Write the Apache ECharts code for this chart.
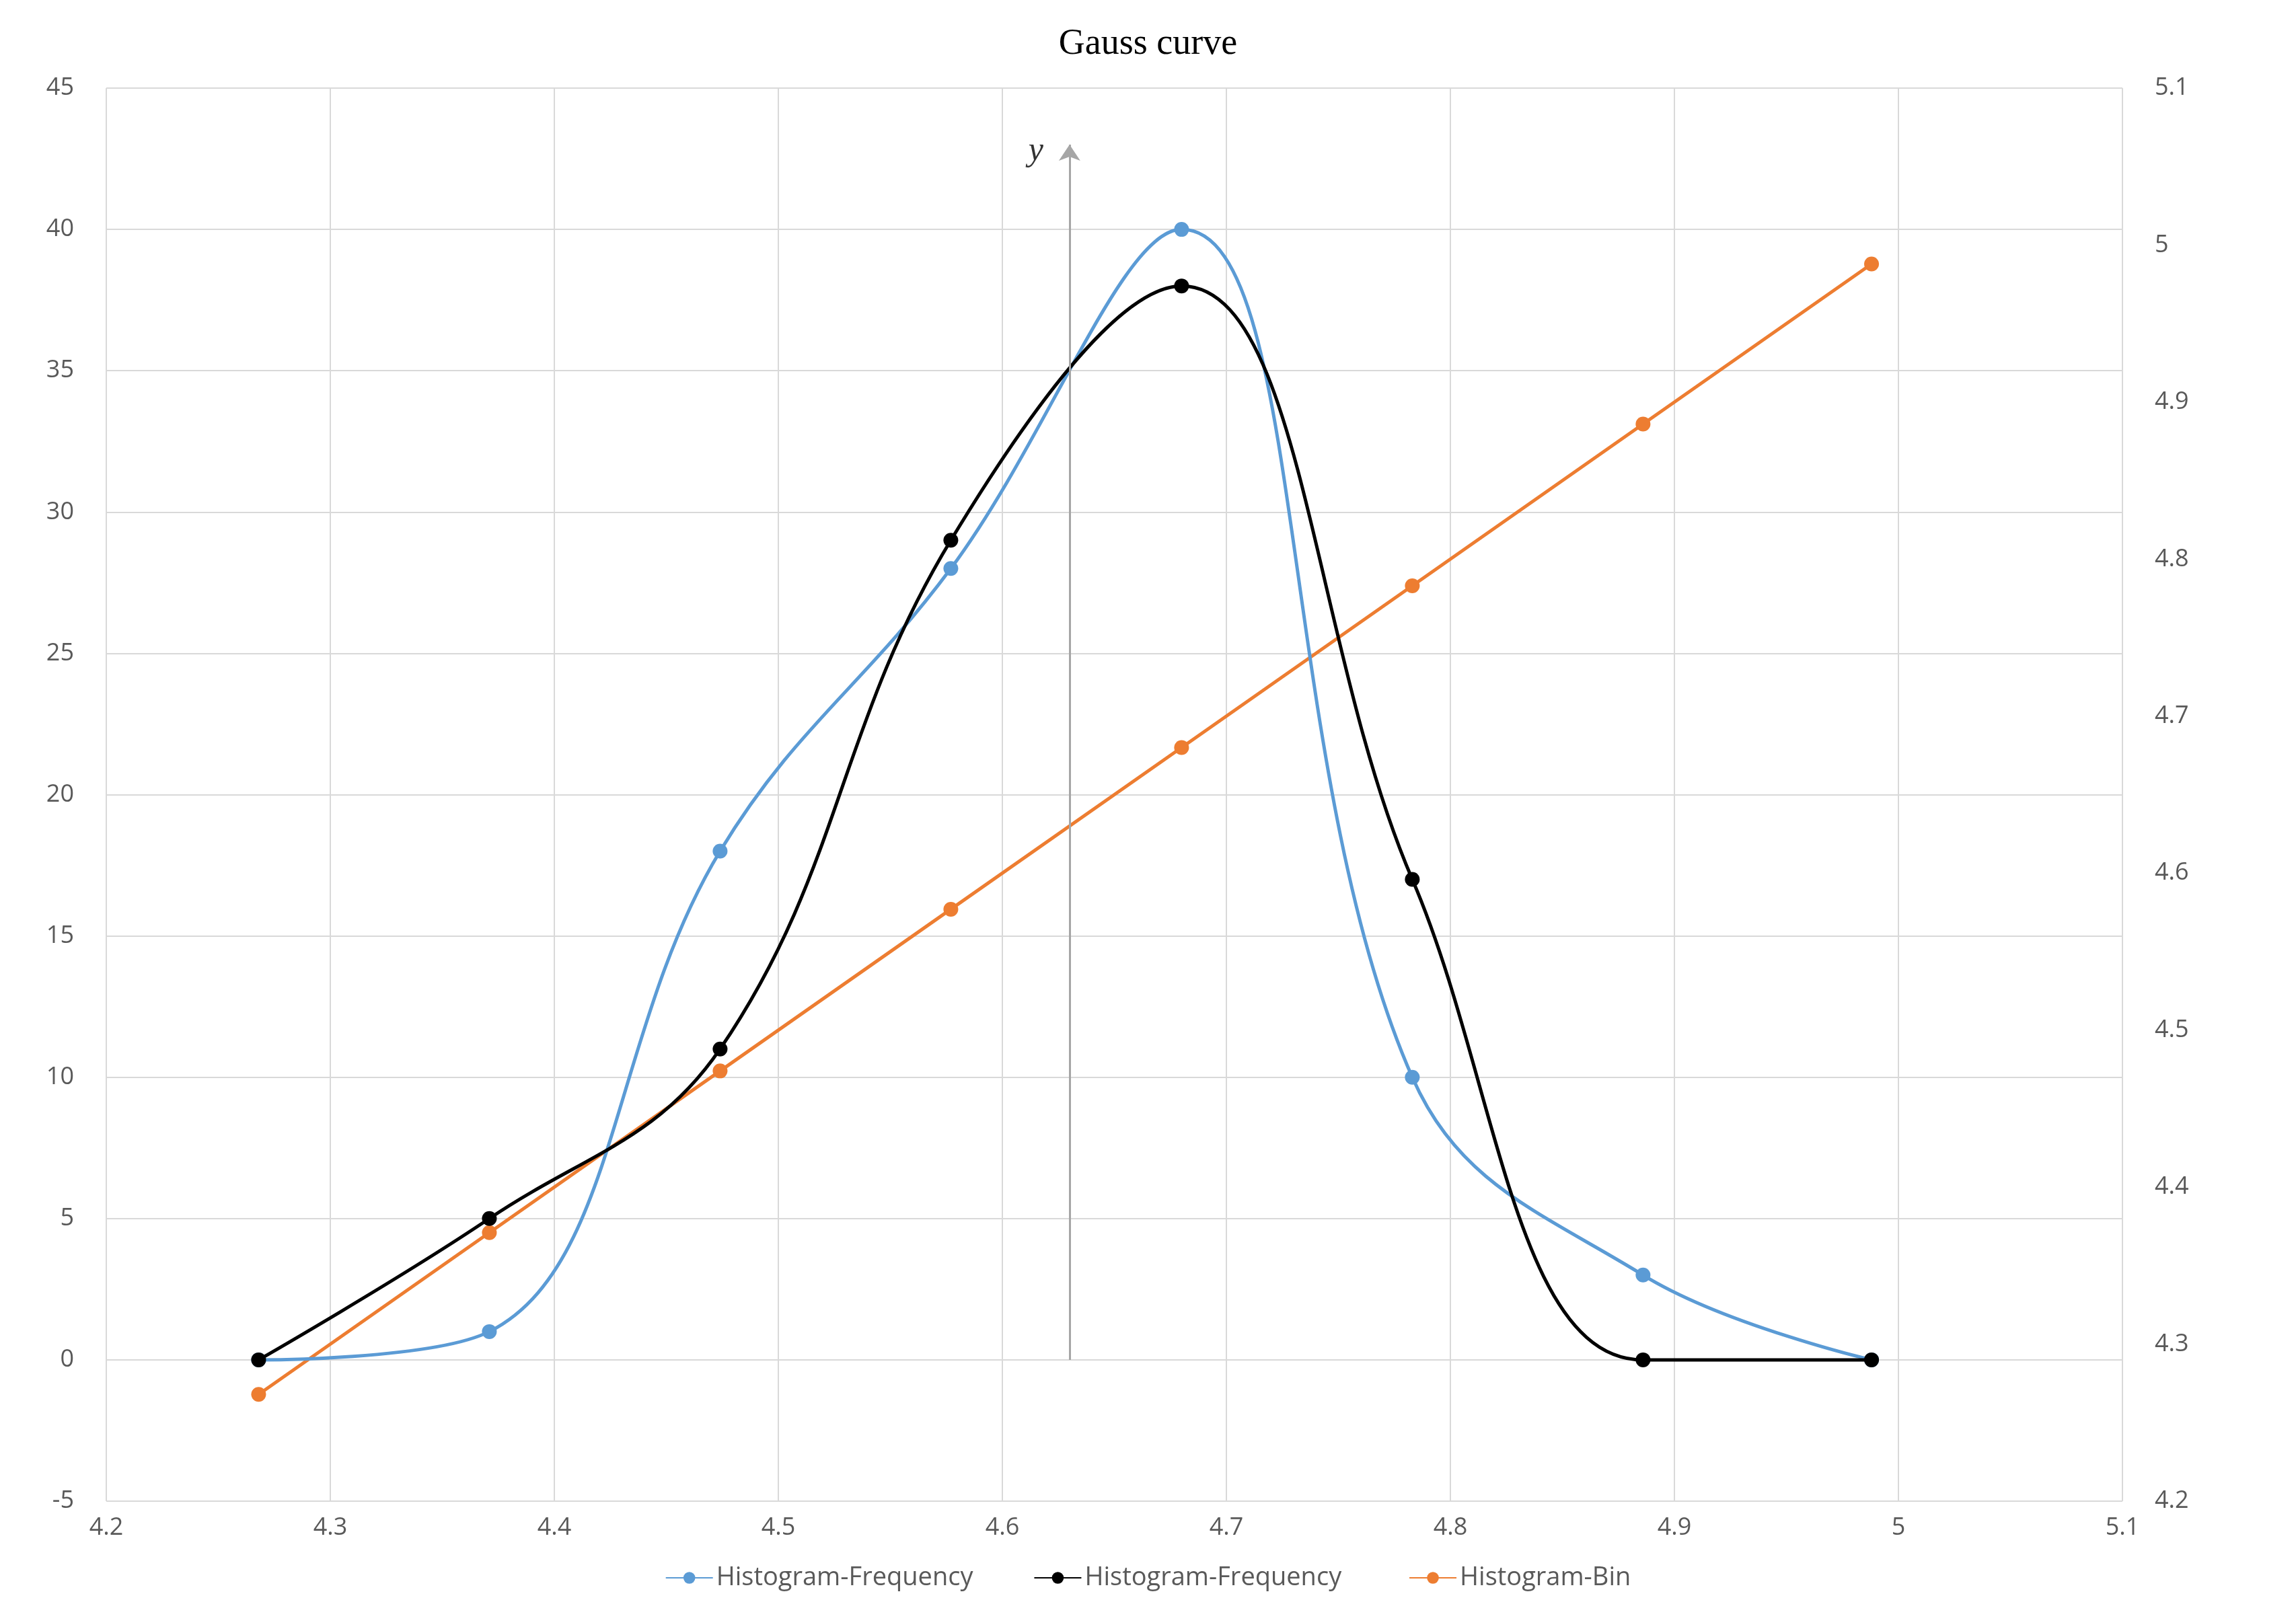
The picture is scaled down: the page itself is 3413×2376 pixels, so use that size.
<!DOCTYPE html>
<html><head><meta charset="utf-8">
<script src="https://cdn.jsdelivr.net/npm/echarts@6/dist/echarts.min.js"></script>
<style>html,body{margin:0;background:#fff}#c{width:3413px;height:2376px}</style>
</head><body><div id="c"></div>
<script>
const bins = [4.268, 4.371, 4.474, 4.577, 4.680, 4.783, 4.886, 4.988];
const freqBlue = [0, 1, 18, 28, 40, 10, 3, 0];
const freqBlack = [0, 5, 11, 29, 38, 17, 0, 0];
const binValues = [4.268, 4.371, 4.474, 4.577, 4.680, 4.783, 4.886, 4.988];

const chart = echarts.init(document.getElementById("c"));
const pair = (xs, ys) => xs.map((x, i) => [x, ys[i]]);
const tick = { color: "#595959", fontSize: 36, fontFamily: "Open Sans" };
const grid = { lineStyle: { color: "#d9d9d9", width: 2 } };

chart.setOption({
  animation: false,
  title: {
    text: "Gauss curve", left: "center", top: 34,
    textStyle: { fontFamily: "Liberation Serif", fontSize: 54, fontWeight: "normal", color: "#000" }
  },
  grid: { left: 158, right: 258, top: 131, bottom: 144 },
  legend: {
    bottom: 6, itemWidth: 70, itemHeight: 22, itemGap: 90,
    textStyle: { color: "#595959", fontSize: 38, fontFamily: "Open Sans" },
    data: ["Histogram-Frequency", "Histogram-Frequency ", "Histogram-Bin"]
  },
  xAxis: {
    type: "value", min: 4.2, max: 5.1, interval: 0.1,
    axisLine: { onZero: true, onZeroAxisIndex: 0, lineStyle: { color: "#d9d9d9", width: 2 } },
    axisTick: { show: false },
    axisLabel: { ...tick, margin: 22, formatter: v => +v.toFixed(1) + "" },
    splitLine: grid
  },
  yAxis: [
    {
      type: "value", min: -5, max: 45, interval: 5,
      axisLine: { show: false }, axisTick: { show: false },
      axisLabel: { ...tick, margin: 48 }, splitLine: grid
    },
    {
      type: "value", min: 4.2, max: 5.1, interval: 0.1, position: "right",
      axisLine: { show: false }, axisTick: { show: false },
      axisLabel: { ...tick, margin: 48, formatter: v => +v.toFixed(1) + "" }, splitLine: { show: false }
    }
  ],
  series: [
    {
      name: "Histogram-Frequency", type: "line", smooth: 0.4, data: pair(bins, freqBlue),
      symbol: "circle", symbolSize: 22, itemStyle: { color: "#5b9bd5" }, lineStyle: { width: 5 }, z: 3,
      markLine: {
        silent: true, symbol: ["none", "arrow"], symbolSize: 24,
        lineStyle: { color: "#a6a6a6", width: 3, type: "solid" },
        label: { show: true, position: "end", formatter: "y", color: "#333", fontSize: 50,
          fontFamily: "Liberation Serif", fontStyle: "italic", offset: [-50, 40] },
        data: [[{ coord: [4.63, 0] }, { coord: [4.63, 43] }]]
      }
    },
    {
      name: "Histogram-Frequency ", type: "line", smooth: 0.4, data: pair(bins, freqBlack),
      symbol: "circle", symbolSize: 22, itemStyle: { color: "#000" }, lineStyle: { width: 5 }, z: 4
    },
    {
      name: "Histogram-Bin", type: "line", yAxisIndex: 1, data: pair(bins, binValues),
      symbol: "circle", symbolSize: 22, itemStyle: { color: "#ed7d31" }, lineStyle: { width: 5 }, z: 2
    }
  ]
});
</script></body></html>
